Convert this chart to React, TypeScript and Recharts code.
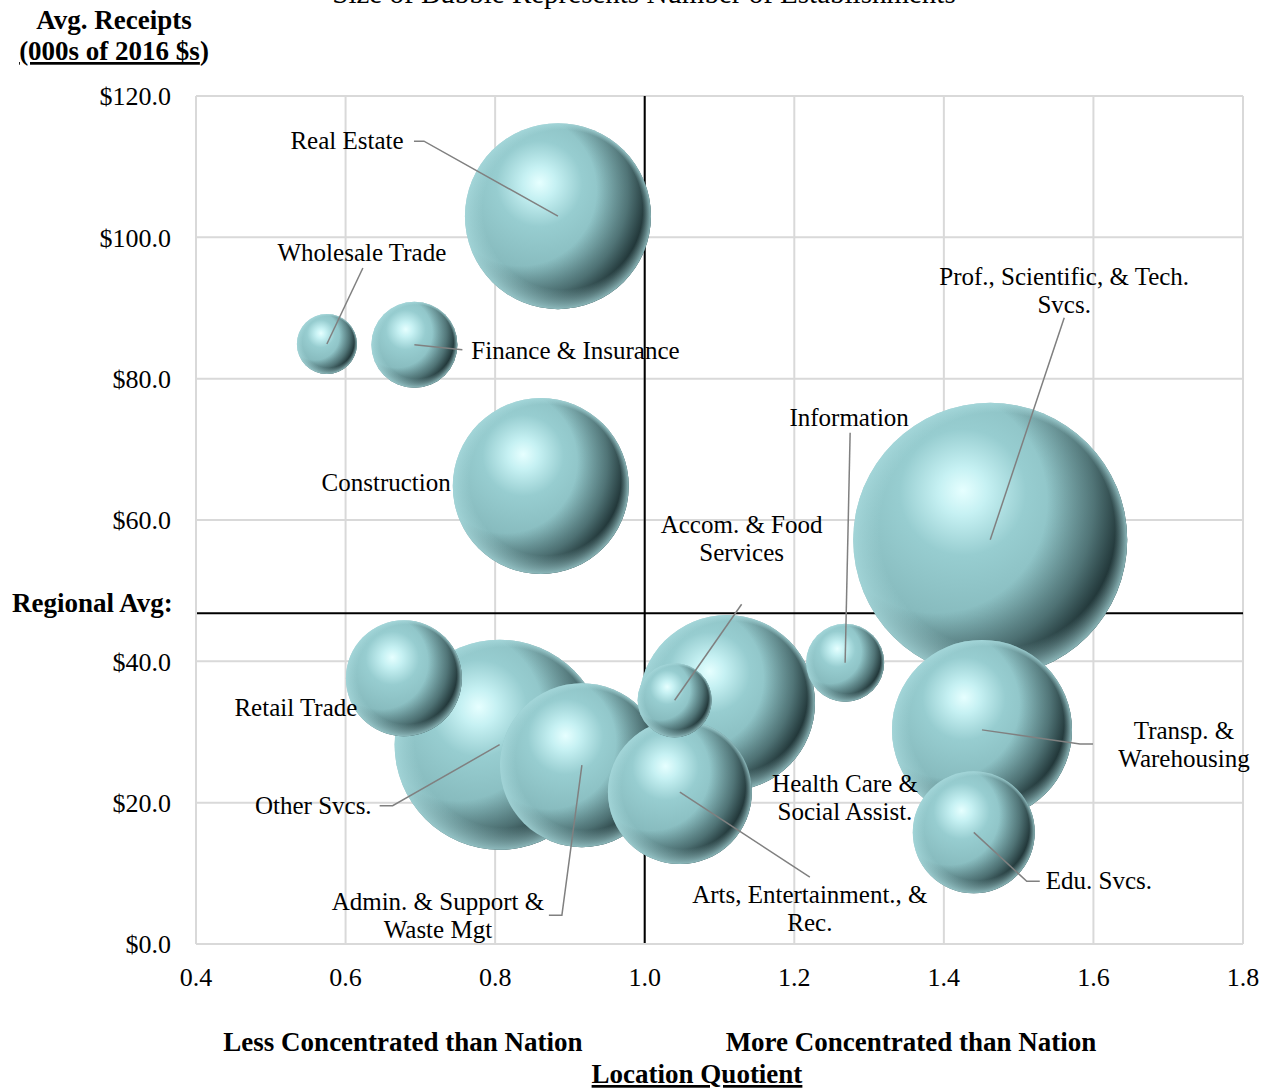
import { CartesianGrid, ReferenceLine, Scatter, ScatterChart, XAxis, YAxis, ZAxis } from "recharts";

// industries, drawn largest first so the small bubbles sit on top
const industries = [
  "Prof., Scientific, & Tech.\nSvcs.",
  "Other Svcs.",
  "Real Estate",
  "Transp. &\nWarehousing",
  "Construction",
  "Health Care &\nSocial Assist.",
  "Admin. & Support &\nWaste Mgt",
  "Arts, Entertainment., &\nRec.",
  "Edu. Svcs.",
  "Retail Trade",
  "Finance & Insurance",
  "Information",
  "Accom. & Food\nServices",
  "Wholesale Trade",
];
const locationQuotient = [1.462, 0.806, 0.884, 1.451, 0.861, 1.11, 0.916, 1.047, 1.44, 0.678, 0.692, 1.268, 1.04, 0.575];
const avgReceipts = [57.2, 28.2, 103.0, 30.3, 64.8, 34.1, 25.3, 21.5, 15.8, 37.6, 84.8, 39.8, 34.5, 84.9];
const establishments = [1877, 1103, 865, 810, 774, 774, 672, 518, 372, 336, 185, 152, 137, 90];

const regionalAvg = 46.8;
const xTicks = [0.4, 0.6, 0.8, 1.0, 1.2, 1.4, 1.6, 1.8];
const yTicks = [0, 20, 40, 60, 80, 100, 120];

const data = industries.map((name, i) => ({
  name,
  lq: locationQuotient[i],
  receipts: avgReceipts[i],
  establishments: establishments[i],
}));

const maxEst = Math.max(...establishments);
const MAX_R = 137;

const FONT = "'Liberation Serif', 'Times New Roman', serif";

type Layout = {
  dx: number;
  dy: number;
  anchor: "start" | "middle" | "end";
  leader?: [number, number][];
};

// label placement relative to the bubble centre
const labelLayout: Record<string, Layout> = {
  "Real Estate": { dx: -211, dy: -75, anchor: "middle", leader: [[-134, -75], [-144, -75]] },
  "Wholesale Trade": { dx: 35, dy: -91, anchor: "middle", leader: [[36, -76]] },
  "Finance & Insurance": { dx: 57, dy: 6, anchor: "start", leader: [[48, 5]] },
  Construction: { dx: -90, dy: -3, anchor: "end" },
  "Prof., Scientific, & Tech.\nSvcs.": { dx: 74, dy: -263, anchor: "middle", leader: [[74, -222]] },
  Information: { dx: 4, dy: -245, anchor: "middle", leader: [[5, -230]] },
  "Accom. & Food\nServices": { dx: 67, dy: -175, anchor: "middle", leader: [[67, -96]] },
  "Health Care &\nSocial Assist.": { dx: 118, dy: 81, anchor: "middle" },
  "Retail Trade": { dx: -108, dy: 30, anchor: "middle" },
  "Other Svcs.": { dx: -128, dy: 61, anchor: "end", leader: [[-107, 61], [-120, 61]] },
  "Admin. & Support &\nWaste Mgt": { dx: -144, dy: 137, anchor: "middle", leader: [[-20, 150], [-33, 150]] },
  "Arts, Entertainment., &\nRec.": { dx: 130, dy: 103, anchor: "middle", leader: [[130, 85]] },
  "Transp. &\nWarehousing": { dx: 202, dy: 1, anchor: "middle", leader: [[98, 14], [111, 14]] },
  "Edu. Svcs.": { dx: 72, dy: 49, anchor: "start", leader: [[53, 49], [66, 49]] },
};

const Sphere = (props: any) => {
  const { cx, cy, width, size, index } = props;
  const r = width ? width / 2 : Math.sqrt((size || 0) / Math.PI);
  const id = `sphere-${index}`;
  return (
    <g>
      <defs>
        <radialGradient id={id} cx="0.4" cy="0.34" r="0.72" fx="0.4" fy="0.32">
          <stop offset="0" stopColor="#e6ffff" />
          <stop offset="0.12" stopColor="#c6f1f3" />
          <stop offset="0.32" stopColor="#97cdd0" />
          <stop offset="0.62" stopColor="#88bcbf" />
          <stop offset="1" stopColor="#6d9da0" />
        </radialGradient>
        <radialGradient id={`${id}-shade`} cx="0.3" cy="0.36" r="0.74">
          <stop offset="0.55" stopColor="#1d3133" stopOpacity="0" />
          <stop offset="0.78" stopColor="#1d3133" stopOpacity="0.5" />
          <stop offset="0.92" stopColor="#122224" stopOpacity="0.85" />
          <stop offset="1" stopColor="#0b1718" stopOpacity="0.95" />
        </radialGradient>
        <radialGradient id={`${id}-rim`} cx="0.5" cy="0.5" r="0.5" fx="0.68" fy="0.25">
          <stop offset="0.86" stopColor="#a8dadd" stopOpacity="0" />
          <stop offset="1" stopColor="#a8dadd" stopOpacity="0.8" />
        </radialGradient>
      </defs>
      <circle cx={cx} cy={cy} r={r} fill={`url(#${id})`} />
      <circle cx={cx} cy={cy} r={r} fill={`url(#${id}-shade)`} />
      <circle cx={cx} cy={cy} r={r} fill={`url(#${id}-rim)`} />
    </g>
  );
};

const BubbleLabel = (props: any) => {
  const { cx, cy, payload } = props;
  const lay = labelLayout[payload.name];
  if (!lay) return <g />;
  const lines = String(payload.name).split("\n");
  const pts = lay.leader
    ? [[0, 0], ...lay.leader].map(([dx, dy]) => `${cx + dx},${cy + dy}`).join(" ")
    : null;
  return (
    <g>
      {pts && <polyline points={pts} fill="none" stroke="#808080" strokeWidth={1.5} />}
      <text textAnchor={lay.anchor} fontFamily={FONT} fontSize={25} fill="#000">
        {lines.map((line, i) => (
          <tspan key={i} x={cx + lay.dx} y={cy + lay.dy + 8 + i * 28}>
            {line}
          </tspan>
        ))}
      </text>
    </g>
  );
};

const boldText = {
  fontFamily: FONT,
  fontWeight: 700,
  fontSize: 27,
  fill: "#000",
} as const;

const App = () => {
  return (
    <div style={{ position: "absolute", left: 0, top: 0, width: 1270, height: 1088, background: "#fff" }}>
      <ScatterChart
        width={1270}
        height={1088}
        margin={{ top: 96, right: 27, bottom: 0, left: 0 }}
      >
        <CartesianGrid stroke="#d9d9d9" strokeWidth={2} />
        <XAxis
          type="number"
          dataKey="lq"
          domain={[0.4, 1.8]}
          ticks={xTicks}
          tickFormatter={(v: number) => v.toFixed(1)}
          height={144}
          tickSize={0}
          tickMargin={24}
          tickLine={false}
          axisLine={{ stroke: "#d9d9d9", strokeWidth: 2 }}
          tick={{ fill: "#000", fontSize: 26, fontFamily: FONT }}
        />
        <YAxis
          type="number"
          dataKey="receipts"
          domain={[0, 120]}
          ticks={yTicks}
          tickFormatter={(v: number) => `$${v.toFixed(1)}`}
          width={196}
          tickSize={0}
          tickMargin={25}
          tickLine={false}
          axisLine={{ stroke: "#d9d9d9", strokeWidth: 2 }}
          tick={{ fill: "#000", fontSize: 26, fontFamily: FONT }}
        />
        <ZAxis
          type="number"
          dataKey="establishments"
          domain={[0, maxEst]}
          range={[0, Math.PI * MAX_R * MAX_R]}
        />
        <ReferenceLine x={1.0} stroke="#000" strokeWidth={2} />
        <ReferenceLine y={regionalAvg} stroke="#000" strokeWidth={2} />
        <Scatter data={data} shape={<Sphere />} isAnimationActive={false} />
        <Scatter data={data} shape={<BubbleLabel />} isAnimationActive={false} />
      </ScatterChart>

      <svg
        width={1270}
        height={1088}
        style={{ position: "absolute", left: 0, top: 0, pointerEvents: "none" }}
      >
        <text x={644} y={3} textAnchor="middle" fontFamily={FONT} fontSize={29} fill="#000">
          Size of Bubble Represents Number of Establishments
        </text>
        <text x={114} y={29} textAnchor="middle" {...boldText}>
          Avg. Receipts
        </text>
        <text x={114} y={60} textAnchor="middle" {...boldText}>
          <tspan textDecoration="underline">(000s of 2016 $s</tspan>)
        </text>
        <text x={12} y={612} textAnchor="start" {...boldText}>
          Regional Avg:
        </text>
        <text x={403} y={1051} textAnchor="middle" {...boldText}>
          Less Concentrated than Nation
        </text>
        <text x={911} y={1051} textAnchor="middle" {...boldText}>
          More Concentrated than Nation
        </text>
        <text x={697} y={1083} textAnchor="middle" textDecoration="underline" {...boldText}>
          Location Quotient
        </text>
      </svg>
    </div>
  );
};

export default App;
